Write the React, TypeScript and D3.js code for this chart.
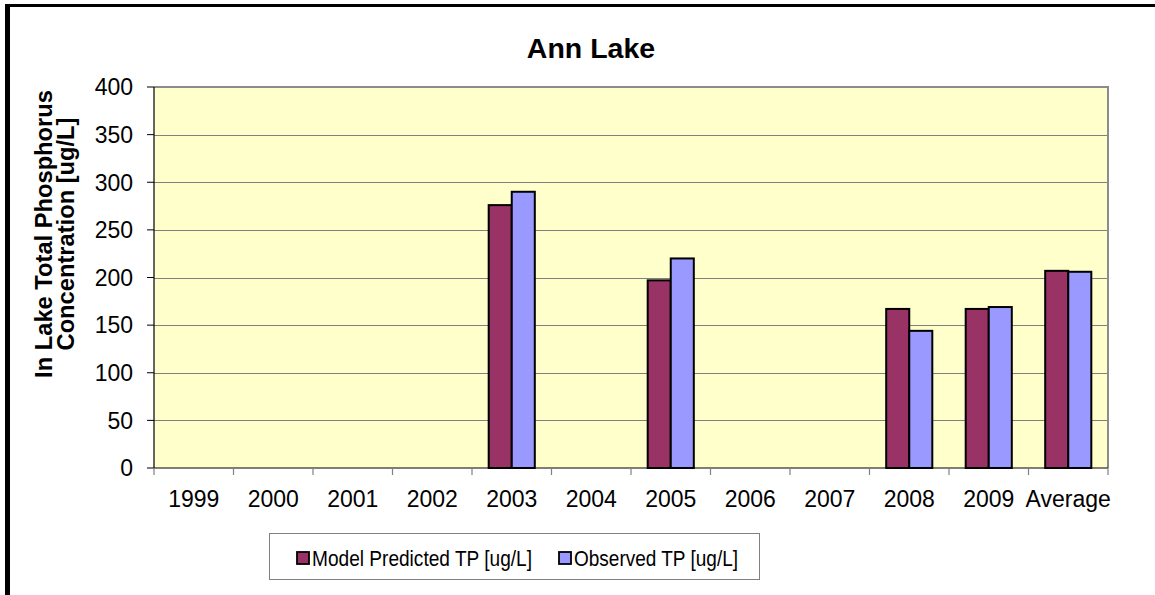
import React from "react";
import * as d3 from "d3";

const categories = ["1999", "2000", "2001", "2002", "2003", "2004", "2005", "2006", "2007", "2008", "2009", "Average"];
const predicted: (number | null)[] = [null, null, null, null, 276, null, 197, null, null, 167, 167, 207];
const observed: (number | null)[] = [null, null, null, null, 290, null, 220, null, null, 144, 169, 206];
const yTicks = [0, 50, 100, 150, 200, 250, 300, 350, 400];
const seriesNames = ["Model Predicted TP [ug/L]", "Observed TP [ug/L]"];
const colors = ["#993366", "#9999FF"];

const W = 1155, H = 595;
const plot = { left: 154, top: 87, right: 1108, bottom: 468 };
const FONT = "'Liberation Sans', Arial, sans-serif";

export default function App() {
  const x = d3.scaleBand<string>().domain(categories).range([plot.left, plot.right]).padding(0);
  const y = d3.scaleLinear().domain([0, 400]).range([plot.bottom, plot.top]);
  const bw = x.bandwidth() * 0.29;
  const series = [predicted, observed];

  return (
    <svg width={W} height={H} style={{ position: "absolute", left: 0, top: 0, background: "#fff" }} fontFamily={FONT}>
      <rect x={0} y={0} width={W} height={H} fill="#fff" />
      {/* outer frame */}
      <line x1={5} x2={W} y1={5.5} y2={5.5} stroke="#000" strokeWidth={3} />
      <line x1={7.5} x2={7.5} y1={4} y2={H} stroke="#000" strokeWidth={5} />

      <text x={591} y={58} textAnchor="middle" fontSize={28.5} fontWeight="bold">Ann Lake</text>

      {/* plot area */}
      <rect x={plot.left} y={plot.top} width={plot.right - plot.left} height={plot.bottom - plot.top} fill="#FFFFCC" />
      {yTicks.filter(t => t > 0 && t < 400).map(t => (
        <line key={t} x1={plot.left} x2={plot.right} y1={Math.round(y(t)) + 0.5} y2={Math.round(y(t)) + 0.5} stroke="#808080" strokeWidth={1.2} />
      ))}
      <line x1={plot.left} x2={plot.right + 1} y1={plot.top} y2={plot.top} stroke="#8c8c8c" strokeWidth={2} />
      <line x1={plot.right} x2={plot.right} y1={plot.top} y2={plot.bottom} stroke="#8c8c8c" strokeWidth={2} />

      {/* bars */}
      {series.map((s, si) =>
        s.map((v, i) => {
          if (v == null) return null;
          const cx = (x(categories[i]) as number) + x.bandwidth() / 2;
          const bx = cx - bw + si * bw;
          return (
            <rect key={`${si}-${i}`} x={bx} y={y(v)} width={bw} height={y(0) - y(v)} fill={colors[si]} stroke="#000" strokeWidth={2} />
          );
        })
      )}

      {/* axes */}
      <line x1={plot.left} x2={plot.left} y1={plot.top} y2={plot.bottom} stroke="#000" strokeWidth={1.2} />
      <line x1={plot.left} x2={plot.right} y1={plot.bottom} y2={plot.bottom} stroke="#000" strokeWidth={1.2} />
      {yTicks.map(t => (
        <g key={t}>
          <line x1={plot.left - 7} x2={plot.left} y1={y(t)} y2={y(t)} stroke="#000" strokeWidth={1} />
          <text x={133} y={y(t)} dy="0.36em" textAnchor="end" fontSize={23}>{t}</text>
        </g>
      ))}
      {categories.map((c, i) => (
        <line key={c} x1={(x(c) as number)} x2={(x(c) as number)} y1={plot.bottom} y2={plot.bottom + 7} stroke="#808080" strokeWidth={1.2} />
      ))}
      <line x1={plot.right} x2={plot.right} y1={plot.bottom} y2={plot.bottom + 7} stroke="#808080" strokeWidth={1.2} />
      {categories.map(c => (
        <text key={c} x={(x(c) as number) + x.bandwidth() / 2} y={507} textAnchor="middle" fontSize={23}>{c}</text>
      ))}

      {/* y axis title */}
      <g transform="translate(0,234) rotate(-90)">
        <text x={0} y={52} textAnchor="middle" fontSize={23.7} fontWeight="bold">In Lake Total Phosphorus</text>
        <text x={0} y={74} textAnchor="middle" fontSize={23.7} fontWeight="bold">Concentration [ug/L]</text>
      </g>

      {/* legend */}
      <rect x={269.5} y={533.5} width={490} height={46} fill="#fff" stroke="#808080" strokeWidth={1} />
      {seriesNames.map((n, i) => {
        const sx = i === 0 ? 297 : 559;
        return (
          <g key={n}>
            <rect x={sx} y={552} width={12} height={12} fill={colors[i]} stroke="#000" strokeWidth={1.8} />
            <text x={sx + 15} y={566} fontSize={21.5} textLength={i === 0 ? 220 : 164} lengthAdjust="spacingAndGlyphs">{n}</text>
          </g>
        );
      })}
    </svg>
  );
}
